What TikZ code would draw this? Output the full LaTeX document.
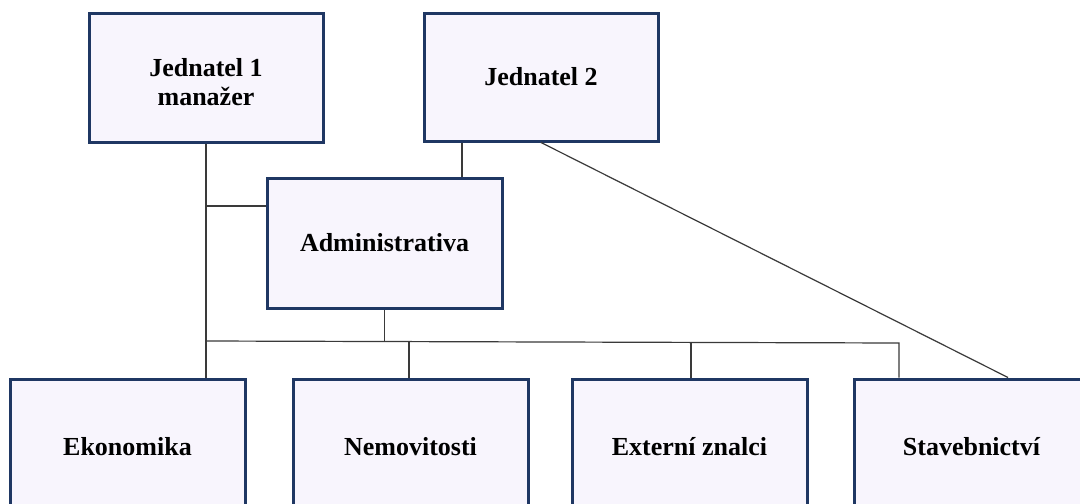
\documentclass[tikz,border=0pt]{standalone}
\usepackage{fontspec}
\setmainfont{Liberation Serif}
\definecolor{boxfill}{HTML}{F8F5FD}
\definecolor{boxline}{HTML}{1F3763}
\definecolor{conn}{HTML}{3A3A3A}
\begin{document}
\begin{tikzpicture}[x=0.5pt,y=-0.5pt,
  boxtext/.style={align=center, font=\fontsize{13}{14.5}\selectfont\bfseries, inner sep=0pt},
  unit/.style={draw=boxline, fill=boxfill, line width=1.5pt, rectangle,
    minimum width=117pt, boxtext},
  link/.style={draw=conn, line width=0.6pt}]
\useasboundingbox (0,0) rectangle (1080,503);
\fill[white] (0,0) rectangle (1080,503);
\clip (0,0) rectangle (1080,503);
% boxes
\node[unit, minimum height=64.5pt] (j1) at (206,77.5) {};
\node[boxtext] (j1t) at (206,82.5) {Jednatel 1\\manažer};
\node[unit, minimum height=64pt] (j2) at (541,77) {Jednatel 2};
\node[unit, minimum width=117.5pt, minimum height=65pt] (adm) at (384.5,243) {Administrativa};
\node[unit, minimum width=117.5pt, minimum height=68pt] (eko) at (127.5,447) {Ekonomika};
\node[unit, minimum width=117.5pt, minimum height=68pt] (nem) at (410.5,447) {Nemovitosti};
\node[unit, minimum width=117.5pt, minimum height=68pt] (ext) at (689.5,447) {Externí znalci};
\node[unit, minimum width=117.5pt, minimum height=68pt] (sta) at (971.5,447) {Stavebnictví};
% helper coordinates
\coordinate (busL) at (206,341);
\coordinate (busR) at (899,343);
\coordinate (ha) at (206,206);
\coordinate (vj2) at (462,0);
\coordinate (vnem) at (409,342);
\coordinate (vext) at (691,342.5);
\coordinate (vsta) at (1008,0);
\coordinate (vadm) at (384.5,341.5);
% connectors
\draw[link] (j1.south) -- (j1.south |- eko.north);
\draw[link] (ha) -- (ha -| adm.west);
\draw[link] (vj2 |- j2.south) -- (vj2 |- adm.north);
\draw[link] (j2.south) -- (vsta |- sta.north);
\draw[link] (adm.south) -- (vadm);
\draw[link] (busL) -- (busR) -- (busR |- sta.north);
\draw[link] (vnem) -- (vnem |- nem.north);
\draw[link] (vext) -- (vext |- ext.north);
\end{tikzpicture}
\end{document}
